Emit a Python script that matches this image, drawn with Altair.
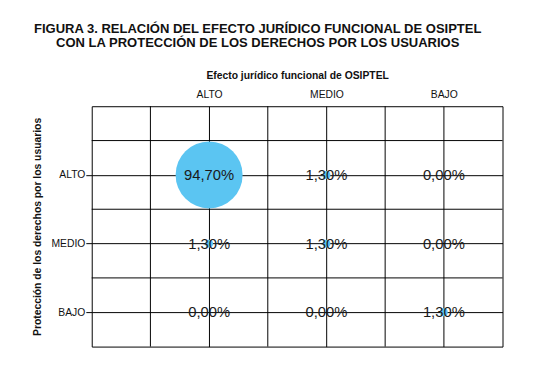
import altair as alt
import pandas as pd

efecto = ["ALTO", "MEDIO", "BAJO"]  # columns (Efecto jurídico funcional de OSIPTEL)
proteccion = ["ALTO", "MEDIO", "BAJO"]  # rows (Protección de los derechos por los usuarios)
valores_alto = [94.70, 1.30, 0.00]
valores_medio = [1.30, 1.30, 0.00]
valores_bajo = [0.00, 0.00, 1.30]

# intermediate grid lines (between category positions)
lineas_x = [0.5, 1.5, 2.5]
lineas_y = [1.5, 2.5, 3.5]

filas = {"ALTO": valores_alto, "MEDIO": valores_medio, "BAJO": valores_bajo}
rows = []
for p in proteccion:
    for e, v in zip(efecto, filas[p]):
        rows.append({"efecto": e, "proteccion": p, "valor": v,
                     "etiqueta": f"{v:.2f}".replace(".", ",") + "%"})
df = pd.DataFrame(rows)

label_x = "datum.value == 1 ? 'ALTO' : datum.value == 2 ? 'MEDIO' : datum.value == 3 ? 'BAJO' : ''"
label_y = "datum.value == 3 ? 'ALTO' : datum.value == 2 ? 'MEDIO' : datum.value == 1 ? 'BAJO' : ''"

xscale = alt.Scale(domain=[0, 3.5], nice=False, zero=False)
yscale = alt.Scale(domain=[0.5, 4], nice=False, zero=False)

x_axis = alt.Axis(orient="top", values=[1, 2, 3], labelExpr=label_x,
                  grid=True, gridColor="black", gridOpacity=1, gridWidth=1,
                  ticks=False, domain=False, labelPadding=7,
                  labelFont="Liberation Sans", labelFontSize=10.5, labelColor="#111",
                  title="Efecto jurídico funcional de OSIPTEL",
                  titleFont="Liberation Sans", titleFontSize=10.5,
                  titleFontWeight="bold", titleColor="#111", titlePadding=9,
                  labelFlush=False, labelOverlap=False)
y_axis = alt.Axis(values=[1, 2, 3], labelExpr=label_y,
                  grid=True, gridColor="black", gridOpacity=1, gridWidth=1,
                  ticks=True, tickSize=6, tickColor="black", tickWidth=1,
                  domain=False, labelPadding=1,
                  labelFont="Liberation Sans", labelFontSize=10.5, labelColor="#111",
                  title="Protección de los derechos por los usuarios",
                  titleFont="Liberation Sans", titleFontSize=10.5,
                  titleFontWeight="bold", titleColor="#111", titlePadding=9,
                  labelFlush=False, labelOverlap=False)

base = alt.Chart(df).transform_calculate(
    xi="indexof(['ALTO','MEDIO','BAJO'], datum.efecto) + 1",
    yi="3 - indexof(['ALTO','MEDIO','BAJO'], datum.proteccion)",
)

x_enc = alt.X("xi:Q", scale=xscale, axis=x_axis)
y_enc = alt.Y("yi:Q", scale=yscale, axis=y_axis)

vlines = alt.Chart(pd.DataFrame({"xv": lineas_x})).mark_rule(color="black", strokeWidth=1).encode(
    x=alt.X("xv:Q", scale=xscale, axis=x_axis)
)
hlines = alt.Chart(pd.DataFrame({"yv": lineas_y})).mark_rule(color="black", strokeWidth=1).encode(
    y=alt.Y("yv:Q", scale=yscale, axis=y_axis)
)

circles = base.mark_circle(color="#5BC5F2", opacity=1).encode(
    x=x_enc, y=y_enc,
    size=alt.Size("valor:Q", scale=alt.Scale(domain=[0, 94.7], range=[0, 4624], zero=True), legend=None),
)
texts = base.mark_text(font="Liberation Sans", fontSize=15, color="#1a1a1a").encode(
    x=x_enc, y=y_enc, text="etiqueta:N"
)

chart = alt.layer(vlines, hlines, circles, texts).properties(
    width=417, height=244,
    autosize="none",
    background="white",
    padding={"left": 85, "top": 97, "right": 35, "bottom": 18},
    title=alt.Title(
        ["FIGURA 3. RELACIÓN DEL EFECTO JURÍDICO FUNCIONAL DE OSIPTEL",
         "CON LA PROTECCIÓN DE LOS DERECHOS POR LOS USUARIOS"],
        font="Liberation Sans", fontSize=13.2, fontWeight="bold", color="#111",
        anchor="middle", dx=-40, offset=21, lineHeight=14,
    ),
).configure_view(stroke="black", strokeWidth=1, strokeOpacity=1)

chart.save("out.html", embed_options={"renderer": "svg", "actions": False})
